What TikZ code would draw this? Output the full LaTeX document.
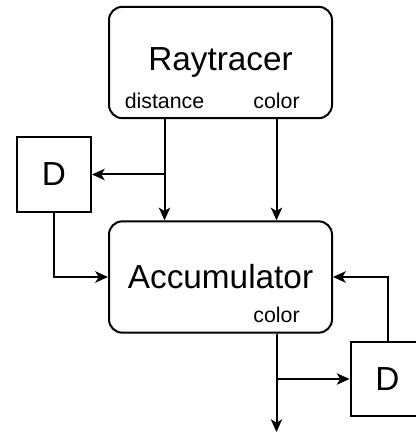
\documentclass[tikz,border=0pt]{standalone}
\usepackage{fontspec}
\setmainfont{Liberation Sans}
\usetikzlibrary{arrows.meta}

\tikzset{every picture/.style={line width=1.5pt}}
\tikzset{
  blk/.style={draw, rounded corners=10pt, minimum width=167.25pt, minimum height=83.5pt, inner sep=0pt, font=\fontsize{25}{30}\selectfont},
  dly/.style={draw, minimum width=55.5pt, minimum height=56pt, inner sep=0pt, font=\fontsize{25}{30}\selectfont},
  lbl/.style={inner sep=0.75pt, font=\fontsize{16}{19}\selectfont},
  sig/.style={-{Stealth[length=9.5pt,width=8.5pt,inset=2.5pt]}}
}

\begin{document}
\begin{tikzpicture}[x=0.75pt,y=0.75pt,yscale=-1,xscale=1]
\useasboundingbox (0,0) rectangle (416,434);

%Shape: Rounded Rect
\node [blk] (rt) at (220.5,62.5) {Raytracer};
%Shape: Rounded Rect
\node [blk] (acc) at (220.5,277) {Accumulator};
%Shape: Square
\node [dly] (d1) at (54,174.5) {D};
%Shape: Square
\node [dly] (d2) at (387.5,379) {D};

% Text Node
\node [lbl] (rtdist) at (164.5,101) {distance};
% Text Node
\node [lbl] (rtcol) at (276.5,101) {color};
% Text Node
\node [lbl] (acccol) at (276.5,315) {color};

\coordinate (out) at (276.5,432);

%Straight Lines
\draw [sig] (rtdist |- rt.south) -- (acc.north -| rtdist);
\draw [sig] (rtdist |- d1) -- (d1.east);
\draw [sig] (rtcol |- rt.south) -- (acc.north -| rtcol);
\draw [sig] (d1.south) |- (acc.west);
\draw [sig] (acc.south -| acccol) -- (out);
\draw [sig] (acccol |- d2) -- (d2.west);
\draw [sig] (d2.north) |- (acc.east);

\end{tikzpicture}
\end{document}
